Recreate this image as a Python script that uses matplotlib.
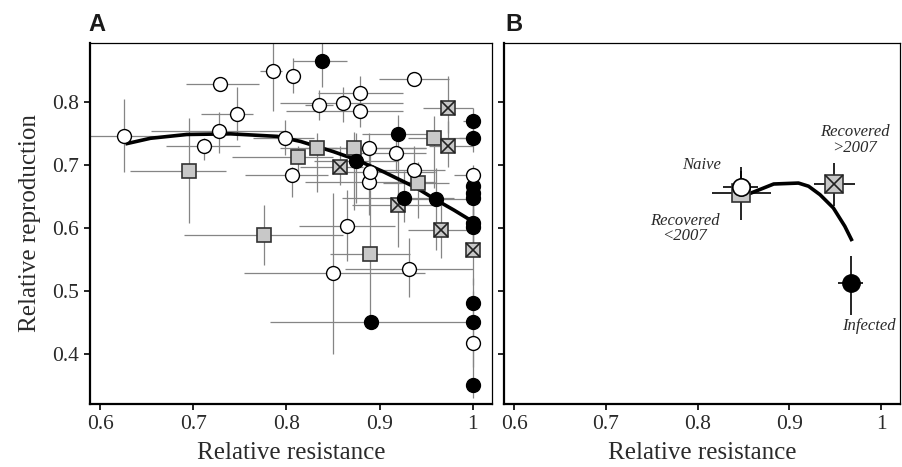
import matplotlib
matplotlib.use("Agg")
import matplotlib.pyplot as plt

# panel A data: x, y and error bar ends
naive_x = [0.625, 0.729, 0.711, 0.728, 0.747, 0.785, 0.807, 0.798, 0.806, 0.835, 0.861, 0.879,
           0.879, 0.889, 0.889, 0.890, 0.918, 0.937, 0.937, 0.865, 0.850, 0.932, 1.0, 1.0]
naive_y = [0.746, 0.828, 0.729, 0.754, 0.780, 0.848, 0.841, 0.742, 0.684, 0.794, 0.798, 0.813,
           0.785, 0.726, 0.672, 0.689, 0.718, 0.836, 0.692, 0.603, 0.528, 0.535, 0.683, 0.418]
naive_xlo = [0.58, 0.692, 0.671, 0.654, 0.708, 0.772, 0.800, 0.764, 0.755, 0.82, 0.793, 0.834,
             0.80, 0.84, 0.82, 0.85, 0.88, 0.899, 0.90, 0.813, 0.754, 0.863, 0.98, 1.0]
naive_xhi = [0.66, 0.770, 0.750, 0.800, 0.764, 0.795, 0.815, 0.830, 0.845, 0.85, 0.925, 0.925,
             0.925, 0.95, 0.96, 0.96, 0.95, 0.974, 0.97, 0.917, 0.949, 1.0, 1.0, 1.0]
naive_ylo = [0.688, 0.820, 0.708, 0.719, 0.739, 0.785, 0.814, 0.716, 0.649, 0.771, 0.767, 0.782,
             0.76, 0.70, 0.62, 0.66, 0.69, 0.828, 0.66, 0.547, 0.400, 0.491, 0.66, 0.38]
naive_yhi = [0.805, 0.836, 0.742, 0.784, 0.823, 0.90, 0.869, 0.771, 0.697, 0.818, 0.823, 0.840,
             0.80, 0.75, 0.70, 0.72, 0.75, 0.845, 0.73, 0.660, 0.656, 0.584, 0.70, 0.46]

inf_x = [0.838, 0.920, 0.875, 0.926, 0.961, 0.891, 1.0, 1.0, 1.0, 1.0, 1.0, 1.0, 1.0, 1.0, 1.0, 1.0]
inf_y = [0.865, 0.749, 0.706, 0.647, 0.645, 0.451, 0.770, 0.743, 0.666, 0.655, 0.648, 0.607,
         0.601, 0.481, 0.451, 0.351]
inf_xlo = [0.807, 0.881, 0.83, 0.86, 0.929, 0.782, 0.99, 0.985, 1.0, 1.0, 1.0, 1.0, 1.0, 1.0, 1.0, 1.0]
inf_xhi = [0.865, 0.953, 0.92, 0.98, 1.0, 1.0, 1.0, 1.0, 1.0, 1.0, 1.0, 1.0, 1.0, 1.0, 1.0, 1.0]
inf_ylo = [0.823, 0.649, 0.64, 0.61, 0.565, 0.44, 0.75, 0.72, 0.64, 0.62, 0.62, 0.57,
           0.56, 0.45, 0.42, 0.33]
inf_yhi = [0.90, 0.779, 0.75, 0.69, 0.695, 0.46, 0.79, 0.76, 0.69, 0.68, 0.68, 0.64,
           0.63, 0.52, 0.50, 0.41]

rec1_x = [0.6955, 0.776, 0.812, 0.833, 0.873, 0.890, 0.958, 0.941]
rec1_y = [0.690, 0.588, 0.712, 0.727, 0.727, 0.559, 0.743, 0.671]
rec1_xlo = [0.632, 0.690, 0.742, 0.793, 0.82, 0.847, 0.93, 0.904]
rec1_xhi = [0.735, 0.861, 0.85, 0.854, 0.95, 0.933, 1.0, 0.974]
rec1_ylo = [0.607, 0.541, 0.687, 0.657, 0.628, 0.455, 0.663, 0.615]
rec1_yhi = [0.774, 0.636, 0.73, 0.75, 0.752, 0.66, 0.777, 0.705]

rec2_x = [0.857, 0.920, 0.973, 0.973, 0.966, 1.0]
rec2_y = [0.697, 0.636, 0.790, 0.729, 0.597, 0.565]
rec2_xlo = [0.815, 0.87, 0.947, 0.953, 0.930, 1.0]
rec2_xhi = [0.882, 0.965, 1.0, 1.0, 1.0, 1.0]
rec2_ylo = [0.668, 0.570, 0.75, 0.697, 0.552, 0.51]
rec2_yhi = [0.729, 0.655, 0.84, 0.77, 0.65, 0.60]

curveA_x = [0.627, 0.654, 0.693, 0.74, 0.79, 0.815, 0.85, 0.875, 0.904, 0.94, 0.961, 0.98, 1.0]
curveA_y = [0.733, 0.742, 0.748, 0.749, 0.745, 0.737, 0.721, 0.708, 0.689, 0.663, 0.644, 0.628, 0.610]

# panel B data: naive, recovered <2007, recovered >2007, infected
b_x = [0.847, 0.847, 0.949, 0.9677]
b_y = [0.664, 0.6553, 0.6695, 0.512]
b_xlo = [0.8275, 0.8156, 0.9274, 0.9533]
b_xhi = [0.866, 0.8796, 0.9713, 0.9802]
b_ylo = [0.64, 0.613, 0.634, 0.462]
b_yhi = [0.696, 0.69, 0.703, 0.555]
b_labels = ["Naive", "Recovered\n<2007", "Recovered\n>2007", "Infected"]

curveB_x = [0.858, 0.883, 0.91, 0.921, 0.9335, 0.948, 0.9605, 0.9677]
curveB_y = [0.655, 0.6695, 0.671, 0.666, 0.6526, 0.6316, 0.6026, 0.5816]

SERIF = "Liberation Serif"
TXT = "#2a2a2a"
SQ_FACE = "#c8c8c8"


def errs(x, y, xlo, xhi, ylo, yhi):
    xe = [[a - b for a, b in zip(x, xlo)], [b - a for a, b in zip(x, xhi)]]
    ye = [[a - b for a, b in zip(y, ylo)], [b - a for a, b in zip(y, yhi)]]
    return xe, ye


def style(ax, show_ylabels=True):
    ax.set_xlim(0.589, 1.0207)
    ax.set_ylim(0.3208, 0.893)
    ax.set_xticks([0.6, 0.7, 0.8, 0.9, 1.0])
    ax.set_xticklabels(["0.6", "0.7", "0.8", "0.9", "1"])
    ax.set_yticks([0.4, 0.5, 0.6, 0.7, 0.8])
    for s in ["left", "bottom"]:
        ax.spines[s].set_linewidth(1.6)
    for s in ["top", "right"]:
        ax.spines[s].set_linewidth(0.9)
    ax.tick_params(direction="out", length=4, width=1.2, colors="black", labelcolor=TXT,
                   labelsize=15.5, pad=4)
    for lab in ax.get_xticklabels() + ax.get_yticklabels():
        lab.set_family(SERIF)
    if not show_ylabels:
        ax.set_yticklabels([])
    ax.set_xlabel("Relative resistance", family=SERIF, fontsize=18, color=TXT, labelpad=6)


fig = plt.figure(figsize=(9.02, 4.67), dpi=100)
axA = fig.add_axes([90 / 902, 63 / 467, 402 / 902, 361 / 467])
axB = fig.add_axes([504 / 902, 63 / 467, 396 / 902, 361 / 467])

ebkw = dict(fmt="none", ecolor="#858585", elinewidth=0.9, capsize=0, zorder=1)

xe, ye = errs(naive_x, naive_y, naive_xlo, naive_xhi, naive_ylo, naive_yhi)
axA.errorbar(naive_x, naive_y, xerr=xe, yerr=ye, **ebkw)
xe, ye = errs(inf_x, inf_y, inf_xlo, inf_xhi, inf_ylo, inf_yhi)
axA.errorbar(inf_x, inf_y, xerr=xe, yerr=ye, **ebkw)
xe, ye = errs(rec1_x, rec1_y, rec1_xlo, rec1_xhi, rec1_ylo, rec1_yhi)
axA.errorbar(rec1_x, rec1_y, xerr=xe, yerr=ye, **ebkw)
xe, ye = errs(rec2_x, rec2_y, rec2_xlo, rec2_xhi, rec2_ylo, rec2_yhi)
axA.errorbar(rec2_x, rec2_y, xerr=xe, yerr=ye, **ebkw)

axA.plot(curveA_x, curveA_y, color="black", lw=2.6, zorder=2, solid_capstyle="butt")

axA.plot(rec1_x, rec1_y, "s", ms=9.5, mfc=SQ_FACE, mec="#333333", mew=1.2, zorder=3)
axA.plot(rec2_x, rec2_y, "s", ms=9.5, mfc=SQ_FACE, mec="#333333", mew=1.2, zorder=3)
axA.plot(rec2_x, rec2_y, "x", ms=9.5, mec="#222222", mew=1.2, zorder=4)
axA.plot(inf_x, inf_y, "o", ms=10, mfc="black", mec="black", mew=1, zorder=5)
axA.plot(naive_x, naive_y, "o", ms=10, mfc="white", mec="black", mew=1, zorder=5)

style(axA)
axA.set_ylabel("Relative reproduction", family=SERIF, fontsize=18, color=TXT, labelpad=8)

# panel B
xe, ye = errs(b_x, b_y, b_xlo, b_xhi, b_ylo, b_yhi)
axB.errorbar(b_x, b_y, xerr=xe, yerr=ye, fmt="none", ecolor="black", elinewidth=1.2,
             capsize=0, zorder=1)
axB.plot(curveB_x, curveB_y, color="black", lw=2.6, zorder=2)
axB.plot(b_x[1], b_y[1], "s", ms=12.5, mfc=SQ_FACE, mec="#333333", mew=1.2, zorder=3)
axB.plot(b_x[2], b_y[2], "s", ms=12.5, mfc=SQ_FACE, mec="#333333", mew=1.2, zorder=3)
axB.plot(b_x[2], b_y[2], "x", ms=12.5, mec="#222222", mew=1.2, zorder=4)
axB.plot(b_x[3], b_y[3], "o", ms=12.5, mfc="black", mec="black", mew=1, zorder=5)
axB.plot(b_x[0], b_y[0], "o", ms=12.5, mfc="white", mec="black", mew=1.2, zorder=5)

lab_pos = [(0.804, 0.700), (0.786, 0.599), (0.971, 0.739), (0.987, 0.445)]
for (tx, ty), txt in zip(lab_pos, b_labels):
    axB.text(tx, ty, txt, family=SERIF, style="italic", fontsize=12, color=TXT,
             ha="center", va="center", linespacing=0.95)

style(axB, show_ylabels=False)

fig.text(88 / 902, 1 - 31 / 467, "A", family="Liberation Sans", weight="bold", fontsize=17,
         color="#1a1a1a", ha="left", va="baseline")
fig.text(505 / 902, 1 - 31 / 467, "B", family="Liberation Sans", weight="bold", fontsize=17,
         color="#1a1a1a", ha="left", va="baseline")

fig.savefig("out.png", dpi=100)
